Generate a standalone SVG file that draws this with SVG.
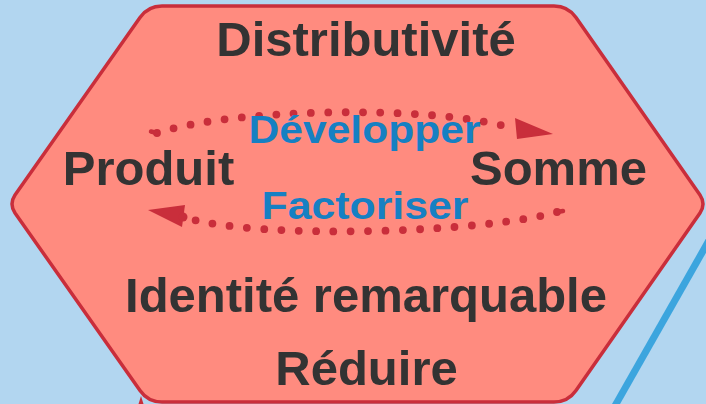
<svg xmlns="http://www.w3.org/2000/svg" width="706" height="404" viewBox="0 0 706 404">
  <defs>
    <style>
      .hex { fill: #ff8b7f; stroke: #c92e3b; stroke-width: 3.5; stroke-linejoin: round; }
      .term { font-family: "Liberation Sans", Arial, sans-serif; font-weight: bold; font-size: 49px; fill: #333333; text-anchor: middle; }
      .op { font-family: "Liberation Sans", Arial, sans-serif; font-weight: bold; font-size: 38px; fill: #1680c3; text-anchor: middle; }
      .dots { fill: none; stroke: #c92e3b; stroke-width: 7.8; stroke-linecap: round; stroke-dasharray: 0 17.3; }
      .tail { fill: none; stroke: #c92e3b; stroke-width: 4.5; stroke-linecap: round; }
      .head { fill: #c92e3b; }
    </style>
  </defs>

  <!-- background -->
  <rect width="706" height="404" fill="#b2d6f0"/>

  <!-- blue stripe, lower right -->
  <line x1="724" y1="214" x2="599" y2="434" stroke="#3ca5de" stroke-width="7"/>

  <!-- small mark under the lower left corner -->
  <polygon points="138.5,404 141,396 143.5,404" fill="#c92e3b"/>

  <!-- hexagon node -->
  <g id="hexagon">
    <path class="hex" d="M162,6 L554,6 Q568,6 576,17.5 L700,195 Q706,204 700,213 L576,390.5 Q568,402 554,402 L162,402 Q148,402 140,390.5 L15,213 Q9,204 15,195 L140,17.5 Q148,6 162,6 Z"/>
  </g>

  <g id="distributivite"><text class="term" x="366" y="56">Distributivité</text></g>
  <g id="produit"><text class="term" x="148.5" y="185">Produit</text></g>
  <g id="somme"><text class="term" x="558.5" y="185">Somme</text></g>
  <g id="identite"><text class="term" x="366" y="312">Identité remarquable</text></g>
  <g id="reduire"><text class="term" x="366.5" y="385">Réduire</text></g>

  <!-- connectors: dotted arcs between Produit and Somme -->
  <g id="connectors">
    <path class="dots" d="M157,133 C232,108 430,105 508,127"/>
    <line class="tail" x1="151" y1="131.5" x2="157" y2="133"/>
    <polygon class="head" points="515,118 553,134 517,139"/>

    <path class="dots" d="M557,212 C490,232 260,241 183,217"/>
    <line class="tail" x1="557" y1="212" x2="563" y2="211"/>
    <polygon class="head" points="148,210 185,205 182,227"/>
    <circle cx="183" cy="217" r="4.5" fill="#c92e3b"/>

    <text class="op" x="364.5" y="143" textLength="232" lengthAdjust="spacingAndGlyphs">Développer</text>
    <text class="op" x="365" y="218.5" textLength="207" lengthAdjust="spacingAndGlyphs">Factoriser</text>
  </g>
</svg>
